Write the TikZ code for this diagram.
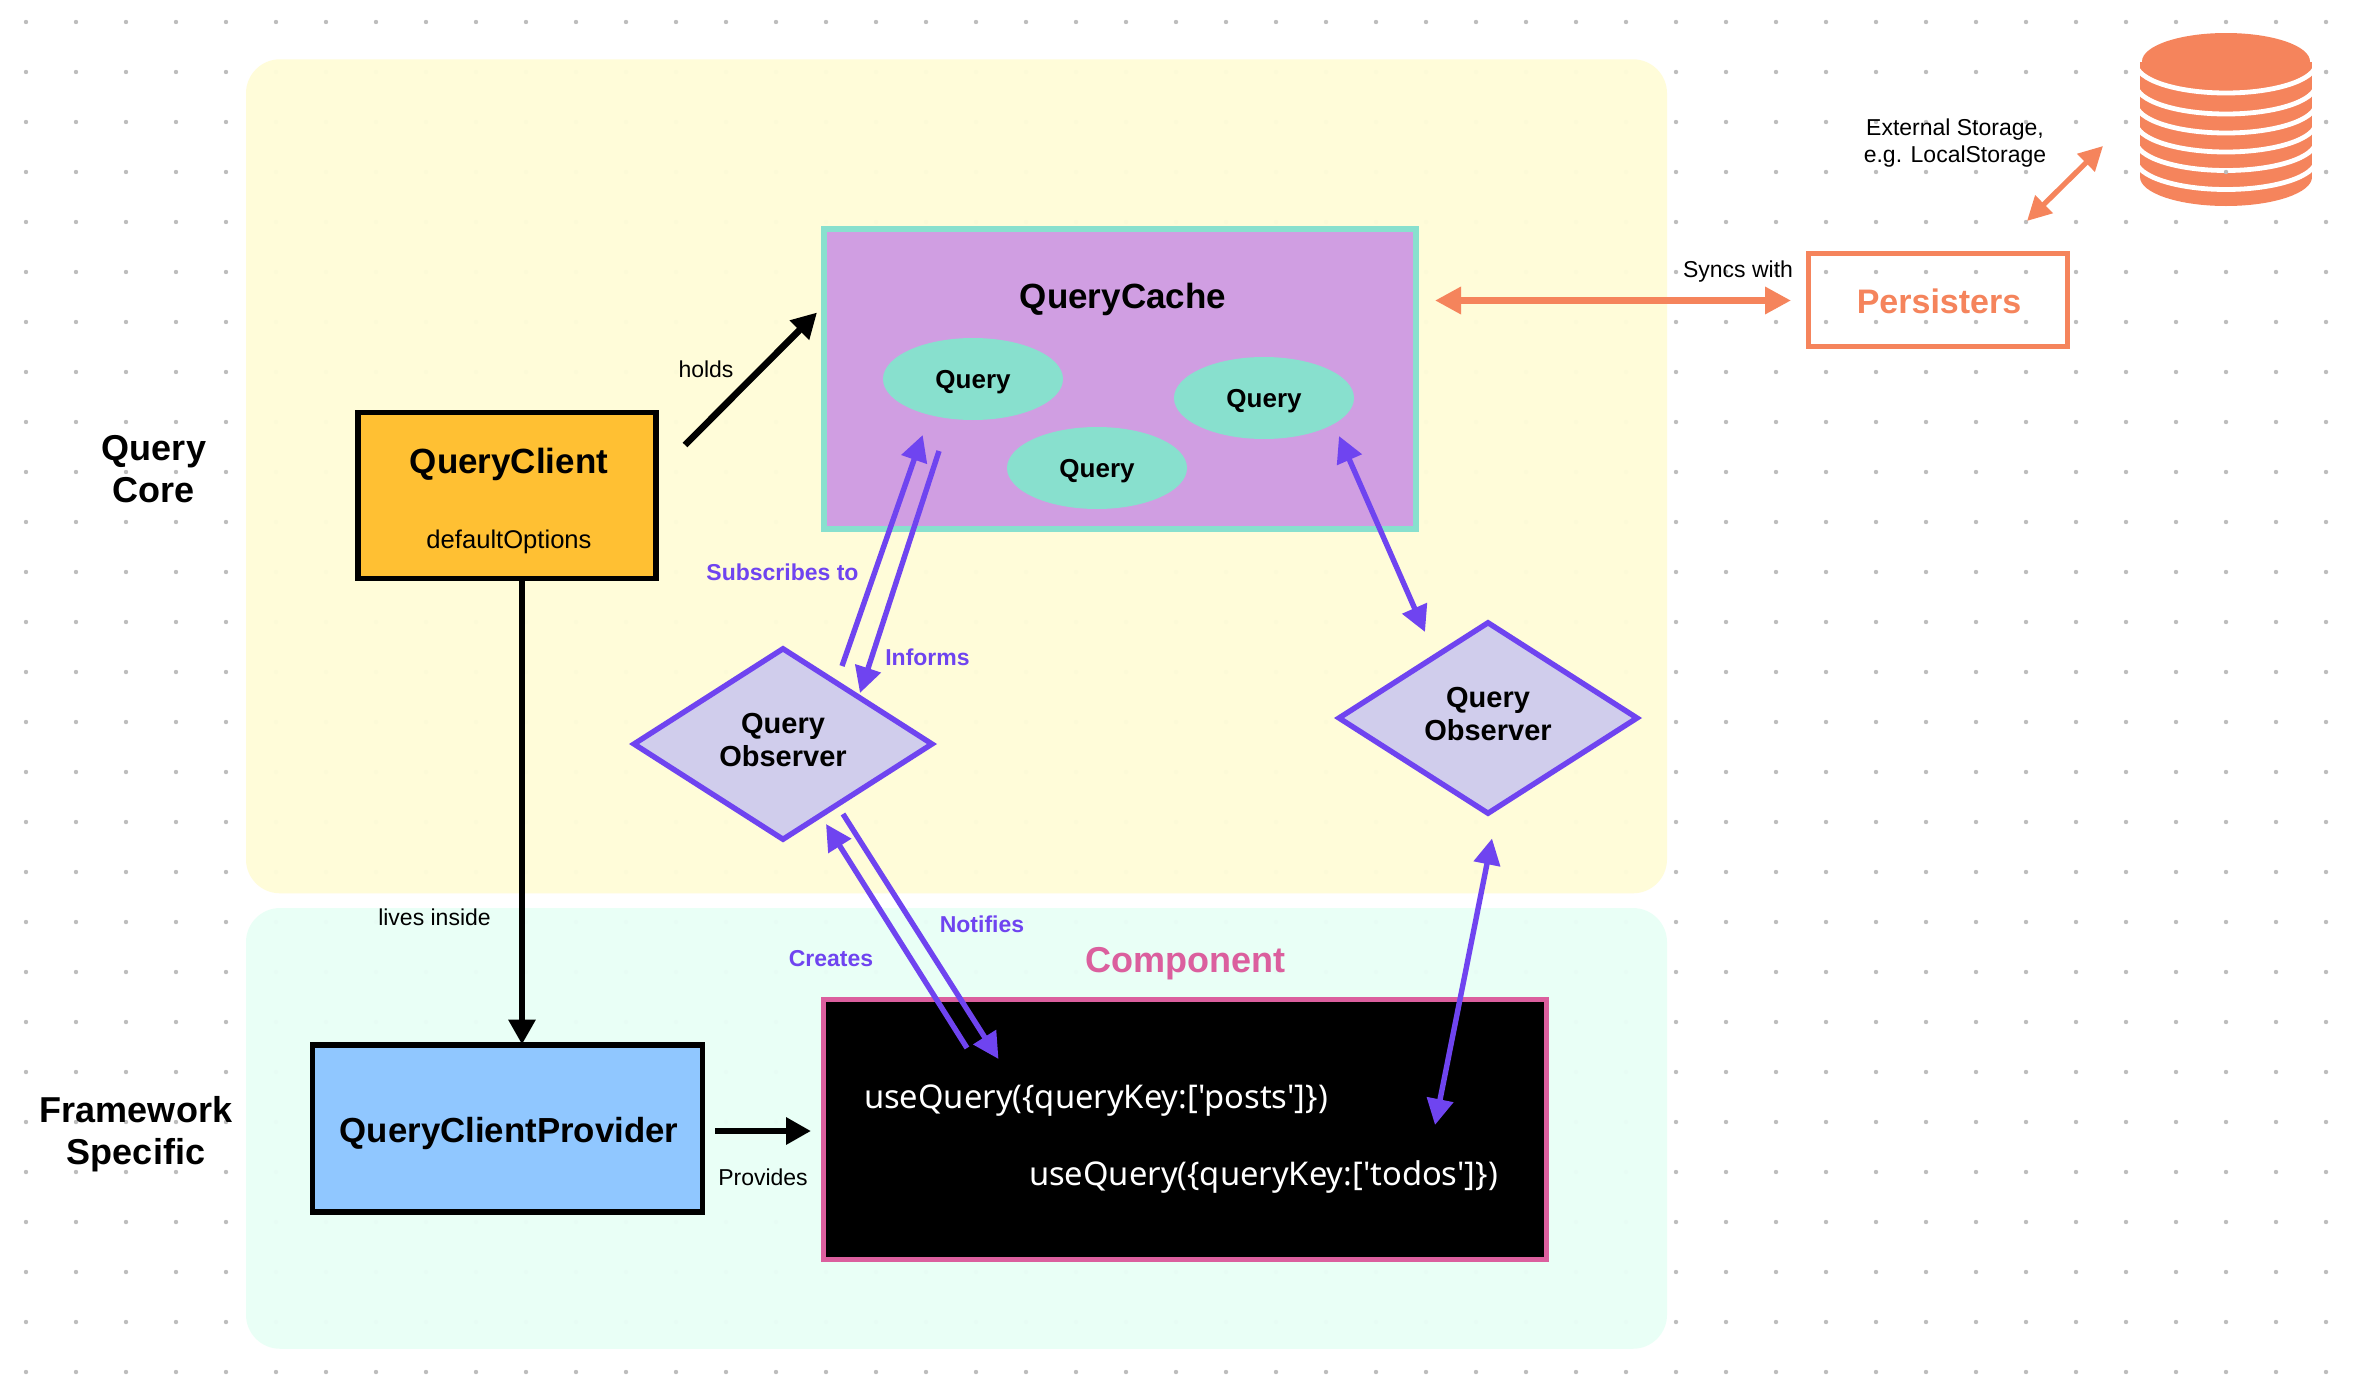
\documentclass[tikz,border=0pt]{standalone}
\usepackage{fontspec}
\setmainfont{Liberation Sans}
\newfontfamily\codefont{Noto Sans}
\usetikzlibrary{arrows.meta,shapes.geometric}
\definecolor{cardyellow}{HTML}{FFFCD8}
\definecolor{cardgreen}{HTML}{E9FFF6}
\definecolor{dotgray}{HTML}{BDBDBD}
\definecolor{qcorange}{HTML}{FFC033}
\definecolor{qpblue}{HTML}{90C7FF}
\definecolor{cachefill}{HTML}{D09EE2}
\definecolor{mint}{HTML}{88E0CE}
\definecolor{lav}{HTML}{D0CDEC}
\definecolor{purp}{HTML}{6F44F0}
\definecolor{pinkc}{HTML}{DB5F9E}
\definecolor{persist}{HTML}{F5845C}
\tikzset{
  x=0.5pt,y=-0.5pt,
  every node/.style={inner sep=0pt,outer sep=0pt},
  dims/.style 2 args={minimum width=#1*0.5pt,minimum height=#2*0.5pt},
  card/.style={rectangle,rounded corners=17pt,fill opacity=.97},
  griddot/.style={fill=dotgray},
  blackbox/.style={rectangle,draw=black,line width=2.9pt},
  qell/.style={ellipse,fill=mint,dims={180}{82},text height=12pt,font=\fontsize{13}{15}\selectfont\bfseries},
  obsv/.style={diamond,aspect=1.5,draw=purp,fill=lav,line width=2.7pt,dims={298}{190.5},align=center,text depth=4pt,font=\fontsize{14.5}{16.75}\selectfont\bfseries},
  head/.style={font=\fontsize{17.5}{21}\selectfont\bfseries},
  side/.style={align=center,font=\fontsize{18}{21}\selectfont\bfseries},
  small/.style={font=\fontsize{11.5}{13}\selectfont},
  purplelabel/.style={text=purp,font=\fontsize{11.5}{13}\selectfont\bfseries},
  code/.style={anchor=west,text=white,font=\fontsize{16.35}{19}\selectfont\codefont},
  blackarrow/.style={draw=black,line width=3.3pt,-{Triangle[length=12.5pt,width=13pt]}},
  purplearrow/.style={draw=purp,line width=2.7pt,-{Triangle[length=13pt,width=13pt]}},
  purpletwo/.style={draw=purp,line width=2.7pt,{Triangle[length=13pt,width=13pt]}-{Triangle[length=13pt,width=13pt]}},
  orangetwo/.style={draw=persist,line width=3.2pt,{Triangle[length=13pt,width=13pt]}-{Triangle[length=13pt,width=13pt]}},
  orangesmall/.style={draw=persist,line width=2.6pt,{Triangle[length=12pt,width=12pt]}-{Triangle[length=12pt,width=12pt]}},
}
\begin{document}
\begin{tikzpicture}
\useasboundingbox (0,0) rectangle (2372,1376);
\fill[white] (0,0) rectangle (2372,1376);
% dotted grid
\foreach \i in {0,...,46}{\foreach \j in {0,...,27}{
  \fill[griddot] ({26+50*\i},{22+50*\j}) circle (1.1pt);
}}
% cards
\node[card,fill=cardyellow,dims={1421}{834}] (core) at (956.5,476.3) {};
\node[card,fill=cardgreen,dims={1421}{440.7}] (fw) at (956.5,1128.4) {};
% side labels
\node[side] (corelabel) at (154,469) {Query\\Core};
\node[side] (fwlabel) at (136,1134) {Framework\\Specific};
% query client
\node[blackbox,fill=qcorange,dims={297.5}{166}] (qc) at (507,495.5) {};
\node[head] (qctitle) at (509,464) {QueryClient};
\node[font=\fontsize{12.8}{15}\selectfont] (qcopts) at (509,542) {defaultOptions};
% query cache
\node[rectangle,draw=mint,fill=cachefill,line width=3.1pt,dims={592}{300}] (cache) at (1120,379) {};
\node[head] (cachetitle) at (1123,299) {QueryCache};
\node[qell] (q1) at (973,379) {Query};
\node[qell] (q2) at (1097,468) {Query};
\node[qell] (q3) at (1264,398) {Query};
% observers
\node[obsv] (obs1) at (783,744) {Query\\Observer};
\node[obsv] (obs2) at (1488,718) {Query\\Observer};
% provider
\node[blackbox,fill=qpblue,dims={390}{167}] (prov) at (507.5,1128.5) {};
\node[head,font=\fontsize{17.4}{21}\selectfont\bfseries] (provtitle) at (509,1133) {QueryClientProvider};
% component
\node[rectangle,draw=pinkc,fill=black,line width=2.5pt,dims={723}{260}] (comp) at (1185,1129.5) {};
\node[head,text=pinkc,font=\fontsize{18}{21}\selectfont\bfseries] (comptitle) at (1185,964) {Component};
\node[code] (posts) at (864,1101) {useQuery(\{queryKey:['posts']\})};
\node[code] (todos) at (1029,1177) {useQuery(\{queryKey:['todos']\})};
% persisters
\node[rectangle,draw=persist,line width=2.5pt,dims={259}{93}] (pers) at (1938,300) {};
\node[head,text=persist,font=\fontsize{17}{21}\selectfont\bfseries] (perslabel) at (1939,301) {Persisters};
% storage cylinder
\fill[persist] (2140,62) -- (2312,62) -- (2312,177) arc[start angle=0,end angle=180,x radius=86,y radius=29] -- cycle;
\foreach \c in {63.5,84.5,103.5,122.5,141,160}{
  \draw[white,line width=2.4pt] (2136,\c) arc[start angle=180,end angle=0,x radius=90,y radius=29.5];
}
\fill[white] (2126,40) rectangle (2139.8,200);
\fill[white] (2312.2,40) rectangle (2326,200);
\fill[white] (2136,30) rectangle (2316,62);
\fill[persist] (2226,61.5) ellipse[x radius=84,y radius=28.5];
\foreach \dx/\dy in {2226/172,2126/72,2126/122,2126/172,2326/72,2326/122,2326/172}{
  \fill[griddot] (\dx,\dy) circle (1.1pt);
}
% labels
\node[small] (holdslabel) at (706,369) {holds};
\node[small] (liveslabel) at (434.5,917) {lives inside};
\node[small] (provlabel) at (763,1177) {Provides};
\node[small] (syncslabel) at (1738,272) {Syncs with};
\node[small,align=center] (extlabel) at (1955,143) {External Storage,\\[0.3pt]e.g. LocalStorage};
\node[purplelabel] (sublabel) at (782.5,572.5) {Subscribes to};
\node[purplelabel] (inflabel) at (927.5,657.5) {Informs};
\node[purplelabel] (notlabel) at (982,924) {Notifies};
\node[purplelabel] (crelabel) at (831,958.5) {Creates};
% connector ends
\coordinate (holdsA) at (685,445); \coordinate (holdsB) at (817,312.5);
\coordinate (livesA) at (522,581); \coordinate (livesB) at (522,1044.5);
\coordinate (provA) at (715,1131); \coordinate (provB) at (811,1131);
\coordinate (subA) at (842,666); \coordinate (subB) at (922.7,435);
\coordinate (infA) at (939,451); \coordinate (infB) at (860,693);
\coordinate (syncA) at (1435,300.5); \coordinate (syncB) at (1791,300.5);
\coordinate (extA) at (2027,221); \coordinate (extB) at (2103,146);
\coordinate (obsA) at (1339,436); \coordinate (obsB) at (1425,632);
\coordinate (creA) at (967,1048); \coordinate (creB) at (826,824);
\coordinate (notA) at (843,814); \coordinate (notB) at (998.5,1059);
\coordinate (todoA) at (1492,838.5); \coordinate (todoB) at (1435,1125);
% connectors
\draw[blackarrow] (holdsA) -- (holdsB);
\draw[blackarrow] (livesA) -- (livesB);
\draw[blackarrow] (provA) -- (provB);
\draw[purplearrow] (subA) -- (subB);
\draw[purplearrow] (infA) -- (infB);
\draw[purpletwo] (obsA) -- (obsB);
\draw[purplearrow] (creA) -- (creB);
\draw[purplearrow] (notA) -- (notB);
\draw[purpletwo] (todoA) -- (todoB);
\draw[orangetwo] (syncA) -- (syncB);
\draw[orangesmall] (extA) -- (extB);
\end{tikzpicture}
\end{document}
